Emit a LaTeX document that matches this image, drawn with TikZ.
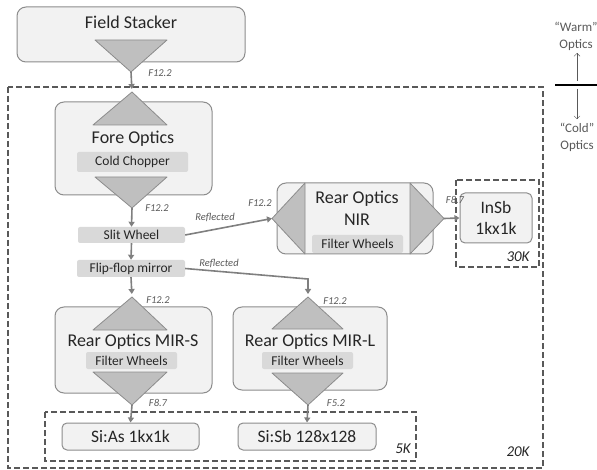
\documentclass[tikz,border=0pt]{standalone}
\usepackage{fontspec}
\setmainfont{Carlito}
\usepackage{tikz}
\usetikzlibrary{positioning,arrows.meta}

\definecolor{boxfill}{HTML}{F2F2F2}
\definecolor{boxline}{HTML}{8C8C8C}
\definecolor{lensfill}{HTML}{BFBFBF}
\definecolor{tagfill}{HTML}{D9D9D9}
\definecolor{zoneline}{HTML}{595959}
\definecolor{beamcol}{HTML}{7F7F7F}
\definecolor{inkcol}{HTML}{262626}

\tikzset{
  optbox/.style={draw=boxline, fill=boxfill, line width=1pt, rounded corners=9pt, inner sep=0pt},
  detbox/.style={draw=boxline, fill=boxfill, line width=1pt, rounded corners=5pt, inner sep=0pt,
    text=inkcol, font=\fontsize{17.5}{21}\selectfont},
  tagbox/.style={fill=tagfill, rounded corners=2pt, inner sep=0pt, text=inkcol,
    font=\fontsize{13.5}{15}\selectfont},
  optname/.style={text=inkcol, font=\fontsize{18}{22}\selectfont, align=center},
  lens/.style={draw=boxline, fill=lensfill, line width=0.8pt, line join=round},
  beam/.style={draw=beamcol, line width=1.6pt, -{Triangle[length=5pt,width=6pt]}},
  zone/.style={draw=zoneline, line width=1.3pt, dash pattern=on 6pt off 3pt},
  fnum/.style={text=zoneline, font=\fontsize{10.5}{12}\selectfont\itshape},
  tempnum/.style={text=inkcol, font=\fontsize{15}{17}\selectfont\itshape},
  sidenote/.style={text=zoneline, font=\fontsize{13}{17}\selectfont, align=center}
}

\begin{document}
\begin{tikzpicture}[x=1pt,y=-1pt]
  \useasboundingbox (0,0) rectangle (597,470);

  % temperature zones
  \draw[zone] (8,87) rectangle (543,468);
  \draw[zone] (45,412) rectangle (416,461);
  \draw[zone] (456,180) rectangle (539,267);
  \node[tempnum] (t20) at (518,452) {20K};
  \node[tempnum] (t5) at (403,449) {5K};
  \node[tempnum] (t30) at (518,257) {30K};

  % field stacker
  \node[optbox, minimum width=228pt, minimum height=55pt] (fs) at (131,34.5) {};
  \node[optname] (fsname) at (131,22) {Field Stacker};
  \filldraw[lens] (95,40) -- (167,40) -- (131,72) -- cycle;
  \coordinate (fsout) at (131,72);

  % fore optics
  \node[optbox, minimum width=157pt, minimum height=93pt] (fo) at (133.5,148.5) {};
  \filldraw[lens] (93,125) -- (167,125) -- (132,92) -- cycle;
  \filldraw[lens] (95,177) -- (167,177) -- (132,208) -- cycle;
  \coordinate (foin) at (132,92);
  \coordinate (foout) at (132,208);
  \node[optname] (foname) at (133,139) {Fore Optics};
  \node[tagbox, minimum width=111pt, minimum height=20pt] (chop) at (132.5,162) {Cold Chopper};

  % wheels
  \node[tagbox, minimum width=107pt, minimum height=16pt] (sw) at (131.5,235) {Slit Wheel};
  \node[tagbox, minimum width=108pt, minimum height=17pt] (ff) at (131,268.5) {Flip-flop mirror};

  % rear optics NIR
  \node[optbox, minimum width=156pt, minimum height=71pt] (nir) at (355,218.5) {};
  \filldraw[lens] (305,183) -- (305,254) -- (272,218.5) -- cycle;
  \filldraw[lens] (410,183) -- (410,254) -- (444,218.5) -- cycle;
  \coordinate (nirin) at (272,218.5);
  \coordinate (nirout) at (444,218.5);
  \node[optname] (nirname) at (357,208) {Rear Optics\\NIR};
  \node[tagbox, minimum width=91pt, minimum height=18pt] (nirfw) at (357.5,244) {Filter Wheels};
  \node[detbox, minimum width=72pt, minimum height=50pt, align=center] (insb) at (496,218) {InSb\\1kx1k};

  % rear optics MIR-S
  \node[optbox, minimum width=157pt, minimum height=86pt] (mirs) at (133.5,350) {};
  \filldraw[lens] (93,330) -- (167,330) -- (132,297) -- cycle;
  \filldraw[lens] (93,372) -- (167,372) -- (132,405) -- cycle;
  \coordinate (mirsin) at (132,297);
  \coordinate (mirsout) at (132,405);
  \node[optname] (mirsname) at (133,342) {Rear Optics MIR-S};
  \node[tagbox, minimum width=91pt, minimum height=17pt] (mirsfw) at (131.5,360.5) {Filter Wheels};

  % rear optics MIR-L
  \node[optbox, minimum width=154pt, minimum height=83pt] (mirl) at (310,348.5) {};
  \filldraw[lens] (272,329) -- (343,329) -- (308,297) -- cycle;
  \filldraw[lens] (272,373) -- (343,373) -- (308,405) -- cycle;
  \coordinate (mirlin) at (308,297);
  \coordinate (mirlout) at (308,405);
  \node[optname] (mirlname) at (310,342) {Rear Optics MIR-L};
  \node[tagbox, minimum width=91pt, minimum height=17pt] (mirlfw) at (307.5,360.5) {Filter Wheels};

  % detectors
  \node[detbox, minimum width=137pt, minimum height=27pt] (sias) at (130.5,436.5) {Si:As 1kx1k};
  \node[detbox, minimum width=138pt, minimum height=27pt] (sisb) at (307,436.5) {Si:Sb 128x128};

  % beams
  \draw[beam, shorten >=3pt] (fsout) -- (foin);
  \draw[beam] (foout) -- (sw.north);
  \draw[beam] (sw.south) -- (ff.north);
  \draw[beam, shorten >=3pt] (ff.south) -- (mirsin);
  \draw[beam] (sw.east) -- (nirin);
  \coordinate (ffbend) at (308,279);
  \draw[beam, shorten >=3pt] (ff.east) -- (ffbend) -- (mirlin);
  \draw[beam] (nirout) -- (insb.west);
  \draw[beam] (mirsout) -- (sias.north);
  \draw[beam] (mirlout) -- (sisb.north);

  % f-numbers
  \node[fnum] (f1) at (160,73) {F12.2};
  \node[fnum] (f2) at (157,208) {F12.2};
  \node[fnum] (f3) at (260,203) {F12.2};
  \node[fnum] (f4) at (455,200) {F8.7};
  \node[fnum] (f5) at (158,300) {F12.2};
  \node[fnum] (f6) at (158,403) {F8.7};
  \node[fnum] (f7) at (335,301) {F12.2};
  \node[fnum] (f8) at (336,403) {F5.2};
  \node[fnum] (r1) at (215,217) {Reflected};
  \node[fnum] (r2) at (219,263) {Reflected};

  % warm / cold legend
  \draw[line width=2pt, black] (555,85) -- (597,85);
  \node[sidenote] (warm) at (576,36) {``Warm''\\Optics};
  \node[sidenote] (cold) at (577,137) {``Cold''\\Optics};
  \draw[zoneline, -{Straight Barb[length=3pt]}] (577,81) -- (577,53);
  \draw[zoneline, -{Straight Barb[length=3pt]}] (577,89) -- (cold.north);
\end{tikzpicture}
\end{document}
